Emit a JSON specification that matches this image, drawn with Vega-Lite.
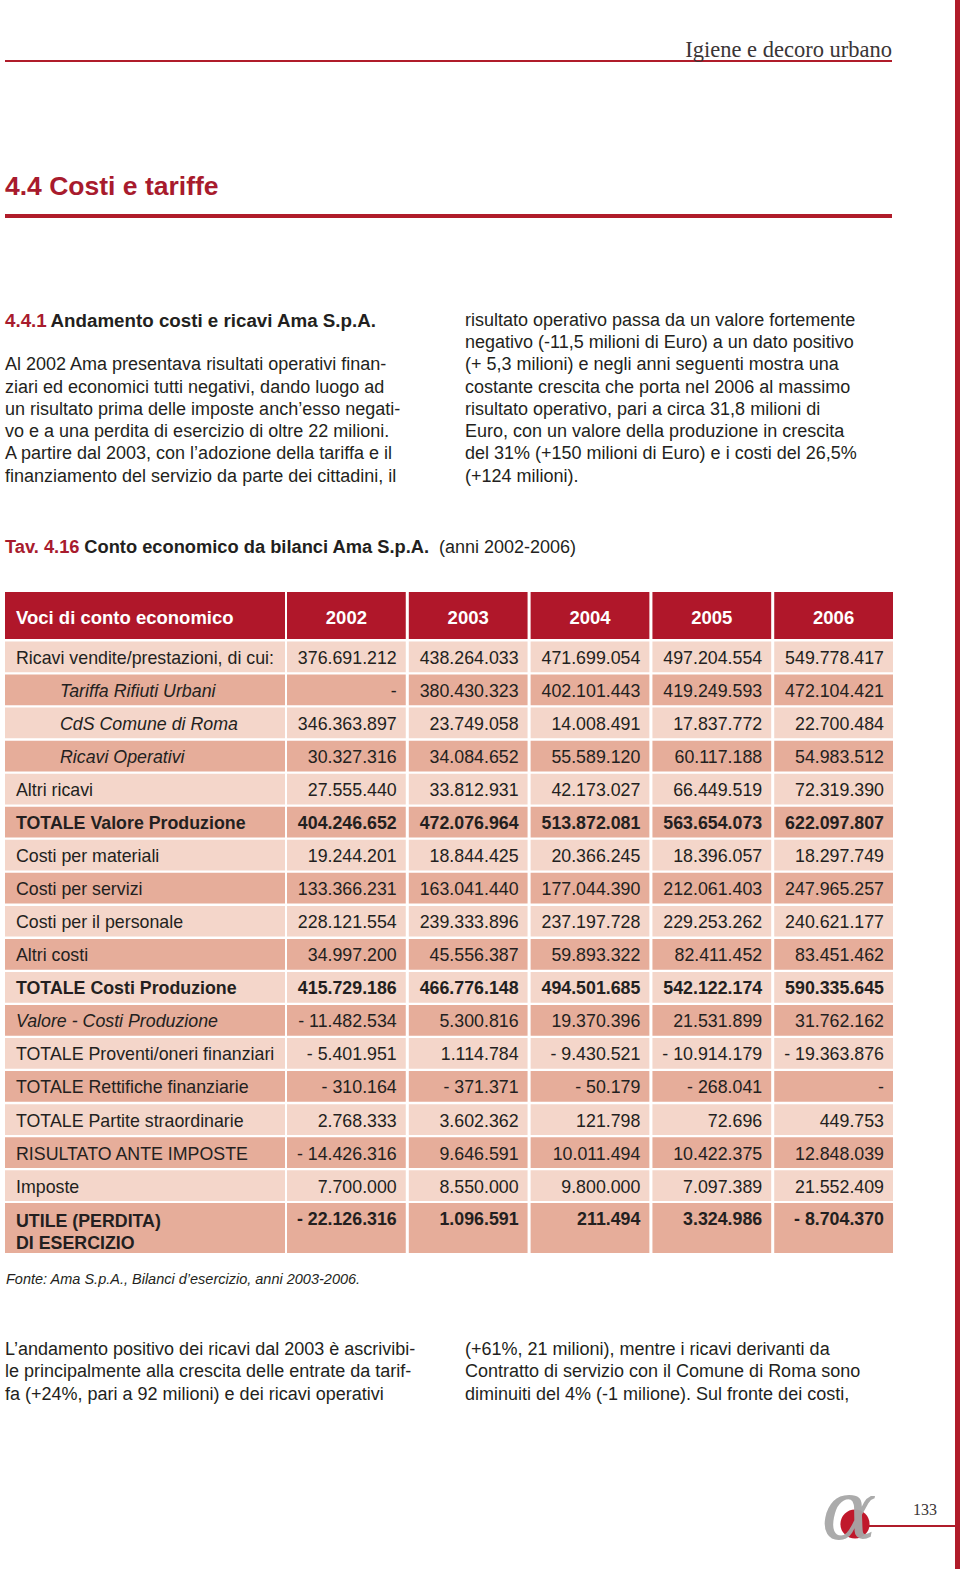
{
  "$schema": "https://vega.github.io/schema/vega-lite/v6.json",
  "width": 960,
  "height": 1569,
  "autosize": {"type": "fit", "contains": "padding"},
  "padding": 0,
  "background": "#ffffff",
  "config": {"view": {"stroke": null}, "text": {"font": "Liberation Sans", "color": "#231f20", "dy": 2}},
  "resolve": {"scale": {"x": "independent", "y": "independent", "color": "independent", "size": "independent"}},
  "datasets": {
    "pagina": [
      {"elemento": "margine"},
      {"elemento": "filetto testata"},
      {"elemento": "filetto capitolo"},
      {"elemento": "filetto piede"},
      {"elemento": "testata", "testo": "Igiene e decoro urbano"},
      {"elemento": "capitolo", "testo": "4.4 Costi e tariffe"},
      {"elemento": "paragrafo", "numero": "4.4.1", "titolo": "Andamento costi e ricavi Ama S.p.A."},
      {"elemento": "tavola", "numero": "Tav. 4.16", "titolo": "Conto economico da bilanci Ama S.p.A.", "nota": "(anni 2002-2006)"},
      {"elemento": "fonte", "testo": "Fonte: Ama S.p.A., Bilanci d’esercizio, anni 2003-2006."},
      {"elemento": "logo", "testo": "α"},
      {"elemento": "numero pagina", "testo": "133"}
    ],
    "testo_sopra": [
      {"colonna": "sinistra", "riga": 3, "testo": "Al 2002 Ama presentava risultati operativi finan-"},
      {"colonna": "sinistra", "riga": 4, "testo": "ziari ed economici tutti negativi, dando luogo ad"},
      {"colonna": "sinistra", "riga": 5, "testo": "un risultato prima delle imposte anch’esso negati-"},
      {"colonna": "sinistra", "riga": 6, "testo": "vo e a una perdita di esercizio di oltre 22 milioni."},
      {"colonna": "sinistra", "riga": 7, "testo": "A partire dal 2003, con l’adozione della tariffa e il"},
      {"colonna": "sinistra", "riga": 8, "testo": "finanziamento del servizio da parte dei cittadini, il"},
      {"colonna": "destra", "riga": 1, "testo": "risultato operativo passa da un valore fortemente"},
      {"colonna": "destra", "riga": 2, "testo": "negativo (-11,5 milioni di Euro) a un dato positivo"},
      {"colonna": "destra", "riga": 3, "testo": "(+ 5,3 milioni) e negli anni seguenti mostra una"},
      {"colonna": "destra", "riga": 4, "testo": "costante crescita che porta nel 2006 al massimo"},
      {"colonna": "destra", "riga": 5, "testo": "risultato operativo, pari a circa 31,8 milioni di"},
      {"colonna": "destra", "riga": 6, "testo": "Euro, con un valore della produzione in crescita"},
      {"colonna": "destra", "riga": 7, "testo": "del 31% (+150 milioni di Euro) e i costi del 26,5%"},
      {"colonna": "destra", "riga": 8, "testo": "(+124 milioni)."}
    ],
    "testo_sotto": [
      {"colonna": "sinistra", "riga": 1, "testo": "L’andamento positivo dei ricavi dal 2003 è ascrivibi-"},
      {"colonna": "sinistra", "riga": 2, "testo": "le principalmente alla crescita delle entrate da tarif-"},
      {"colonna": "sinistra", "riga": 3, "testo": "fa (+24%, pari a 92 milioni) e dei ricavi operativi"},
      {"colonna": "destra", "riga": 1, "testo": "(+61%, 21 milioni), mentre i ricavi derivanti da"},
      {"colonna": "destra", "riga": 2, "testo": "Contratto di servizio con il Comune di Roma sono"},
      {"colonna": "destra", "riga": 3, "testo": "diminuiti del 4% (-1 milione). Sul fronte dei costi,"}
    ],
    "intestazione": [
      {"sezione": "intestazione", "ruolo": "voci", "colonna": "Voci di conto economico"},
      {"sezione": "intestazione", "ruolo": "anno", "colonna": "2002"},
      {"sezione": "intestazione", "ruolo": "anno", "colonna": "2003"},
      {"sezione": "intestazione", "ruolo": "anno", "colonna": "2004"},
      {"sezione": "intestazione", "ruolo": "anno", "colonna": "2005"},
      {"sezione": "intestazione", "ruolo": "anno", "colonna": "2006"}
    ],
    "conto": [
      {"voce": "Ricavi vendite/prestazioni, di cui:", "tipo": "voce", "2002": "376.691.212", "2003": "438.264.033", "2004": "471.699.054", "2005": "497.204.554", "2006": "549.778.417"},
      {"voce": "Tariffa Rifiuti Urbani", "tipo": "sotto", "2002": "-", "2003": "380.430.323", "2004": "402.101.443", "2005": "419.249.593", "2006": "472.104.421"},
      {"voce": "CdS Comune di Roma", "tipo": "sotto", "2002": "346.363.897", "2003": "23.749.058", "2004": "14.008.491", "2005": "17.837.772", "2006": "22.700.484"},
      {"voce": "Ricavi Operativi", "tipo": "sotto", "2002": "30.327.316", "2003": "34.084.652", "2004": "55.589.120", "2005": "60.117.188", "2006": "54.983.512"},
      {"voce": "Altri ricavi", "tipo": "voce", "2002": "27.555.440", "2003": "33.812.931", "2004": "42.173.027", "2005": "66.449.519", "2006": "72.319.390"},
      {"voce": "TOTALE Valore Produzione", "tipo": "totale", "2002": "404.246.652", "2003": "472.076.964", "2004": "513.872.081", "2005": "563.654.073", "2006": "622.097.807"},
      {"voce": "Costi per materiali", "tipo": "voce", "2002": "19.244.201", "2003": "18.844.425", "2004": "20.366.245", "2005": "18.396.057", "2006": "18.297.749"},
      {"voce": "Costi per servizi", "tipo": "voce", "2002": "133.366.231", "2003": "163.041.440", "2004": "177.044.390", "2005": "212.061.403", "2006": "247.965.257"},
      {"voce": "Costi per il personale", "tipo": "voce", "2002": "228.121.554", "2003": "239.333.896", "2004": "237.197.728", "2005": "229.253.262", "2006": "240.621.177"},
      {"voce": "Altri costi", "tipo": "voce", "2002": "34.997.200", "2003": "45.556.387", "2004": "59.893.322", "2005": "82.411.452", "2006": "83.451.462"},
      {"voce": "TOTALE Costi Produzione", "tipo": "totale", "2002": "415.729.186", "2003": "466.776.148", "2004": "494.501.685", "2005": "542.122.174", "2006": "590.335.645"},
      {"voce": "Valore - Costi Produzione", "tipo": "differenza", "2002": "- 11.482.534", "2003": "5.300.816", "2004": "19.370.396", "2005": "21.531.899", "2006": "31.762.162"},
      {"voce": "TOTALE Proventi/oneri finanziari", "tipo": "voce", "2002": "- 5.401.951", "2003": "1.114.784", "2004": "- 9.430.521", "2005": "- 10.914.179", "2006": "- 19.363.876"},
      {"voce": "TOTALE Rettifiche finanziarie", "tipo": "voce", "2002": "- 310.164", "2003": "- 371.371", "2004": "- 50.179", "2005": "- 268.041", "2006": "-"},
      {"voce": "TOTALE Partite straordinarie", "tipo": "voce", "2002": "2.768.333", "2003": "3.602.362", "2004": "121.798", "2005": "72.696", "2006": "449.753"},
      {"voce": "RISULTATO ANTE IMPOSTE", "tipo": "voce", "2002": "- 14.426.316", "2003": "9.646.591", "2004": "10.011.494", "2005": "10.422.375", "2006": "12.848.039"},
      {"voce": "Imposte", "tipo": "voce", "2002": "7.700.000", "2003": "8.550.000", "2004": "9.800.000", "2005": "7.097.389", "2006": "21.552.409"},
      {"voce": "UTILE (PERDITA)\nDI ESERCIZIO", "tipo": "utile", "2002": "- 22.126.316", "2003": "1.096.591", "2004": "211.494", "2005": "3.324.986", "2006": "- 8.704.370"}
    ]
  },
  "layer": [
    {
      "data": {"name": "pagina"},
      "transform": [{"filter": {"field": "elemento", "equal": "margine"}}],
      "mark": {"type": "rect", "color": "#b01c2a"},
      "encoding": {
        "x": {"field": "elemento", "type": "nominal", "scale": {"type": "band", "range": [955, 960], "paddingInner": 0, "paddingOuter": 0}, "axis": null},
        "y": {"field": "elemento", "type": "nominal", "scale": {"type": "band", "range": [0, 1569], "paddingInner": 0, "paddingOuter": 0}, "axis": null}
      }
    },
    {
      "data": {"name": "pagina"},
      "transform": [{"filter": {"field": "elemento", "equal": "filetto testata"}}],
      "mark": {"type": "rect", "color": "#b01c2a"},
      "encoding": {
        "x": {"field": "elemento", "type": "nominal", "scale": {"type": "band", "range": [5, 892], "paddingInner": 0, "paddingOuter": 0}, "axis": null},
        "y": {"field": "elemento", "type": "nominal", "scale": {"type": "band", "range": [60, 62], "paddingInner": 0, "paddingOuter": 0}, "axis": null}
      }
    },
    {
      "data": {"name": "pagina"},
      "transform": [{"filter": {"field": "elemento", "equal": "filetto capitolo"}}],
      "mark": {"type": "rect", "color": "#b01c2a"},
      "encoding": {
        "x": {"field": "elemento", "type": "nominal", "scale": {"type": "band", "range": [5, 892], "paddingInner": 0, "paddingOuter": 0}, "axis": null},
        "y": {"field": "elemento", "type": "nominal", "scale": {"type": "band", "range": [214, 218], "paddingInner": 0, "paddingOuter": 0}, "axis": null}
      }
    },
    {
      "data": {"name": "pagina"},
      "transform": [{"filter": {"field": "elemento", "equal": "filetto piede"}}],
      "mark": {"type": "rect", "color": "#b01c2a"},
      "encoding": {
        "x": {"field": "elemento", "type": "nominal", "scale": {"type": "band", "range": [868, 956], "paddingInner": 0, "paddingOuter": 0}, "axis": null},
        "y": {"field": "elemento", "type": "nominal", "scale": {"type": "band", "range": [1525, 1527], "paddingInner": 0, "paddingOuter": 0}, "axis": null}
      }
    },
    {
      "data": {"name": "pagina"},
      "transform": [{"filter": {"field": "elemento", "equal": "testata"}}],
      "mark": {"type": "text", "align": "right", "baseline": "middle", "font": "Liberation Serif", "fontSize": 22.5, "color": "#3a3536"},
      "encoding": {
        "x": {"field": "elemento", "type": "nominal", "bandPosition": 1, "scale": {"type": "band", "range": [5, 892], "paddingInner": 0, "paddingOuter": 0}, "axis": null},
        "y": {"field": "elemento", "type": "nominal", "scale": {"type": "band", "range": [37, 59], "paddingInner": 0, "paddingOuter": 0}, "axis": null},
        "text": {"field": "testo"}
      }
    },
    {
      "data": {"name": "pagina"},
      "transform": [{"filter": {"field": "elemento", "equal": "capitolo"}}],
      "mark": {"type": "text", "align": "left", "baseline": "middle", "fontSize": 26.5, "fontWeight": "bold", "color": "#a81b2d"},
      "encoding": {
        "x": {"field": "elemento", "type": "nominal", "bandPosition": 0, "scale": {"type": "band", "range": [5, 892], "paddingInner": 0, "paddingOuter": 0}, "axis": null},
        "y": {"field": "elemento", "type": "nominal", "scale": {"type": "band", "range": [172, 198], "paddingInner": 0, "paddingOuter": 0}, "axis": null},
        "text": {"field": "testo"}
      }
    },
    {
      "data": {"name": "pagina"},
      "transform": [{"filter": {"field": "elemento", "equal": "paragrafo"}}],
      "mark": {"type": "text", "align": "left", "baseline": "middle", "fontSize": 18.75, "fontWeight": "bold", "color": "#a81b2d"},
      "encoding": {
        "x": {"field": "elemento", "type": "nominal", "bandPosition": 0, "scale": {"type": "band", "range": [5, 376], "paddingInner": 0, "paddingOuter": 0}, "axis": null},
        "y": {"field": "elemento", "type": "nominal", "scale": {"type": "band", "range": [308, 330], "paddingInner": 0, "paddingOuter": 0}, "axis": null},
        "text": {"field": "numero"}
      }
    },
    {
      "data": {"name": "pagina"},
      "transform": [{"filter": {"field": "elemento", "equal": "paragrafo"}}],
      "mark": {"type": "text", "align": "right", "baseline": "middle", "fontSize": 18.75, "fontWeight": "bold", "color": "#231f20"},
      "encoding": {
        "x": {"field": "elemento", "type": "nominal", "bandPosition": 1, "scale": {"type": "band", "range": [5, 376], "paddingInner": 0, "paddingOuter": 0}, "axis": null},
        "y": {"field": "elemento", "type": "nominal", "scale": {"type": "band", "range": [308, 330], "paddingInner": 0, "paddingOuter": 0}, "axis": null},
        "text": {"field": "titolo"}
      }
    },
    {
      "data": {"name": "testo_sopra"},
      "mark": {"type": "text", "align": "left", "baseline": "middle", "fontSize": 18},
      "encoding": {
        "x": {"field": "colonna", "type": "nominal", "bandPosition": 0, "scale": {"type": "band", "domain": ["sinistra", "destra"], "range": [5, 892], "paddingInner": 0.0717, "paddingOuter": 0}, "axis": null},
        "y": {"field": "riga", "type": "quantitative", "scale": {"domain": [1, 8], "range": [319, 474.5], "zero": false, "nice": false}, "axis": null},
        "text": {"field": "testo"}
      }
    },
    {
      "data": {"name": "pagina"},
      "transform": [{"filter": {"field": "elemento", "equal": "tavola"}}],
      "mark": {"type": "text", "align": "left", "baseline": "middle", "fontSize": 18.3, "fontWeight": "bold", "color": "#a81b2d"},
      "encoding": {
        "x": {"field": "elemento", "type": "nominal", "bandPosition": 0, "scale": {"type": "band", "range": [5, 429], "paddingInner": 0, "paddingOuter": 0}, "axis": null},
        "y": {"field": "elemento", "type": "nominal", "scale": {"type": "band", "range": [535, 557], "paddingInner": 0, "paddingOuter": 0}, "axis": null},
        "text": {"field": "numero"}
      }
    },
    {
      "data": {"name": "pagina"},
      "transform": [{"filter": {"field": "elemento", "equal": "tavola"}}],
      "mark": {"type": "text", "align": "right", "baseline": "middle", "fontSize": 18.3, "fontWeight": "bold", "color": "#231f20"},
      "encoding": {
        "x": {"field": "elemento", "type": "nominal", "bandPosition": 1, "scale": {"type": "band", "range": [5, 429], "paddingInner": 0, "paddingOuter": 0}, "axis": null},
        "y": {"field": "elemento", "type": "nominal", "scale": {"type": "band", "range": [535, 557], "paddingInner": 0, "paddingOuter": 0}, "axis": null},
        "text": {"field": "titolo"}
      }
    },
    {
      "data": {"name": "pagina"},
      "transform": [{"filter": {"field": "elemento", "equal": "tavola"}}],
      "mark": {"type": "text", "align": "right", "baseline": "middle", "fontSize": 18, "color": "#231f20"},
      "encoding": {
        "x": {"field": "elemento", "type": "nominal", "bandPosition": 1, "scale": {"type": "band", "range": [5, 576], "paddingInner": 0, "paddingOuter": 0}, "axis": null},
        "y": {"field": "elemento", "type": "nominal", "scale": {"type": "band", "range": [535, 557], "paddingInner": 0, "paddingOuter": 0}, "axis": null},
        "text": {"field": "nota"}
      }
    },
    {
      "data": {"name": "intestazione"},
      "encoding": {
        "y": {"field": "sezione", "type": "nominal", "scale": {"type": "band", "range": [592, 639], "paddingInner": 0, "paddingOuter": 0}, "axis": null}
      },
      "resolve": {"scale": {"x": "independent"}},
      "layer": [
        {
          "transform": [{"filter": {"field": "ruolo", "equal": "voci"}}],
          "mark": {"type": "rect", "color": "#b0172a"},
          "encoding": {
            "x": {"field": "colonna", "type": "nominal", "scale": {"type": "band", "range": [5, 285], "paddingInner": 0, "paddingOuter": 0}, "axis": null}
          }
        },
        {
          "transform": [{"filter": {"field": "ruolo", "equal": "anno"}}],
          "mark": {"type": "rect", "color": "#b0172a"},
          "encoding": {
            "x": {"field": "colonna", "type": "nominal", "scale": {"type": "band", "domain": ["2002", "2003", "2004", "2005", "2006"], "range": [287, 893], "paddingInner": 0.025, "paddingOuter": 0}, "axis": null}
          }
        },
        {
          "transform": [{"filter": {"field": "ruolo", "equal": "voci"}}],
          "mark": {"type": "text", "align": "left", "baseline": "middle", "fontSize": 18.5, "fontWeight": "bold", "color": "#ffffff"},
          "encoding": {
            "x": {"field": "colonna", "type": "nominal", "bandPosition": 0, "scale": {"type": "band", "range": [16, 285], "paddingInner": 0, "paddingOuter": 0}, "axis": null},
            "text": {"field": "colonna"}
          }
        },
        {
          "transform": [{"filter": {"field": "ruolo", "equal": "anno"}}],
          "mark": {"type": "text", "align": "center", "baseline": "middle", "fontSize": 18.5, "fontWeight": "bold", "color": "#ffffff"},
          "encoding": {
            "x": {"field": "colonna", "type": "nominal", "bandPosition": 0.5, "scale": {"type": "band", "domain": ["2002", "2003", "2004", "2005", "2006"], "range": [287, 893], "paddingInner": 0.025, "paddingOuter": 0}, "axis": null},
            "text": {"field": "colonna"}
          }
        }
      ]
    },
    {
      "data": {"name": "conto"},
      "transform": [{"filter": {"field": "tipo", "oneOf": ["voce", "sotto", "totale", "differenza"]}}],
      "encoding": {
        "y": {"field": "voce", "type": "nominal", "scale": {"type": "band", "domain": ["Ricavi vendite/prestazioni, di cui:", "Tariffa Rifiuti Urbani", "CdS Comune di Roma", "Ricavi Operativi", "Altri ricavi", "TOTALE Valore Produzione", "Costi per materiali", "Costi per servizi", "Costi per il personale", "Altri costi", "TOTALE Costi Produzione", "Valore - Costi Produzione", "TOTALE Proventi/oneri finanziari", "TOTALE Rettifiche finanziarie", "TOTALE Partite straordinarie", "RISULTATO ANTE IMPOSTE", "Imposte"], "range": [641.5, 1201], "paddingInner": 0.07, "paddingOuter": 0}, "axis": null}
      },
      "resolve": {"scale": {"x": "independent"}},
      "layer": [
        {
          "transform": [{"fold": ["voce"], "as": ["colonna", "etichetta"]}],
          "mark": {"type": "rect"},
          "encoding": {
            "x": {"field": "colonna", "type": "nominal", "scale": {"type": "band", "range": [5, 285], "paddingInner": 0, "paddingOuter": 0}, "axis": null},
            "color": {"field": "voce", "type": "nominal", "scale": {"domain": ["Ricavi vendite/prestazioni, di cui:", "Tariffa Rifiuti Urbani", "CdS Comune di Roma", "Ricavi Operativi", "Altri ricavi", "TOTALE Valore Produzione", "Costi per materiali", "Costi per servizi", "Costi per il personale", "Altri costi", "TOTALE Costi Produzione", "Valore - Costi Produzione", "TOTALE Proventi/oneri finanziari", "TOTALE Rettifiche finanziarie", "TOTALE Partite straordinarie", "RISULTATO ANTE IMPOSTE", "Imposte", "UTILE (PERDITA)\nDI ESERCIZIO"], "range": ["#f4d6ca", "#e6ad9a"]}, "legend": null}
          }
        },
        {
          "transform": [{"fold": ["2002", "2003", "2004", "2005", "2006"], "as": ["anno", "valore"]}],
          "mark": {"type": "rect"},
          "encoding": {
            "x": {"field": "anno", "type": "nominal", "scale": {"type": "band", "domain": ["2002", "2003", "2004", "2005", "2006"], "range": [287, 893], "paddingInner": 0.025, "paddingOuter": 0}, "axis": null},
            "color": {"field": "voce", "type": "nominal", "scale": {"domain": ["Ricavi vendite/prestazioni, di cui:", "Tariffa Rifiuti Urbani", "CdS Comune di Roma", "Ricavi Operativi", "Altri ricavi", "TOTALE Valore Produzione", "Costi per materiali", "Costi per servizi", "Costi per il personale", "Altri costi", "TOTALE Costi Produzione", "Valore - Costi Produzione", "TOTALE Proventi/oneri finanziari", "TOTALE Rettifiche finanziarie", "TOTALE Partite straordinarie", "RISULTATO ANTE IMPOSTE", "Imposte", "UTILE (PERDITA)\nDI ESERCIZIO"], "range": ["#f4d6ca", "#e6ad9a"]}, "legend": null}
          }
        },
        {
          "transform": [{"filter": {"field": "tipo", "equal": "voce"}}],
          "mark": {"type": "text", "align": "left", "baseline": "middle", "fontSize": 17.8},
          "encoding": {
            "x": {"field": "tipo", "type": "nominal", "bandPosition": 0, "scale": {"type": "band", "range": [16, 285], "paddingInner": 0, "paddingOuter": 0}, "axis": null},
            "text": {"field": "voce"}
          }
        },
        {
          "transform": [{"filter": {"field": "tipo", "equal": "sotto"}}],
          "mark": {"type": "text", "align": "left", "baseline": "middle", "fontSize": 17.8, "fontStyle": "italic"},
          "encoding": {
            "x": {"field": "tipo", "type": "nominal", "bandPosition": 0, "scale": {"type": "band", "range": [60, 285], "paddingInner": 0, "paddingOuter": 0}, "axis": null},
            "text": {"field": "voce"}
          }
        },
        {
          "transform": [{"filter": {"field": "tipo", "equal": "differenza"}}],
          "mark": {"type": "text", "align": "left", "baseline": "middle", "fontSize": 17.8, "fontStyle": "italic"},
          "encoding": {
            "x": {"field": "tipo", "type": "nominal", "bandPosition": 0, "scale": {"type": "band", "range": [16, 285], "paddingInner": 0, "paddingOuter": 0}, "axis": null},
            "text": {"field": "voce"}
          }
        },
        {
          "transform": [{"filter": {"field": "tipo", "equal": "totale"}}],
          "mark": {"type": "text", "align": "left", "baseline": "middle", "fontSize": 17.8, "fontWeight": "bold"},
          "encoding": {
            "x": {"field": "tipo", "type": "nominal", "bandPosition": 0, "scale": {"type": "band", "range": [16, 285], "paddingInner": 0, "paddingOuter": 0}, "axis": null},
            "text": {"field": "voce"}
          }
        },
        {
          "transform": [{"filter": {"field": "tipo", "oneOf": ["voce", "sotto", "differenza"]}}, {"fold": ["2002", "2003", "2004", "2005", "2006"], "as": ["anno", "valore"]}],
          "mark": {"type": "text", "align": "right", "baseline": "middle", "fontSize": 17.8},
          "encoding": {
            "x": {"field": "anno", "type": "nominal", "bandPosition": 1, "scale": {"type": "band", "domain": ["2002", "2003", "2004", "2005", "2006"], "range": [278, 884], "paddingInner": 0.025, "paddingOuter": 0}, "axis": null},
            "text": {"field": "valore"}
          }
        },
        {
          "transform": [{"filter": {"field": "tipo", "equal": "totale"}}, {"fold": ["2002", "2003", "2004", "2005", "2006"], "as": ["anno", "valore"]}],
          "mark": {"type": "text", "align": "right", "baseline": "middle", "fontSize": 17.8, "fontWeight": "bold"},
          "encoding": {
            "x": {"field": "anno", "type": "nominal", "bandPosition": 1, "scale": {"type": "band", "domain": ["2002", "2003", "2004", "2005", "2006"], "range": [278, 884], "paddingInner": 0.025, "paddingOuter": 0}, "axis": null},
            "text": {"field": "valore"}
          }
        }
      ]
    },
    {
      "data": {"name": "conto"},
      "transform": [{"filter": {"field": "tipo", "equal": "utile"}}],
      "encoding": {
        "y": {"field": "voce", "type": "nominal", "scale": {"type": "band", "range": [1203, 1253], "paddingInner": 0, "paddingOuter": 0}, "axis": null}
      },
      "resolve": {"scale": {"x": "independent"}},
      "layer": [
        {
          "transform": [{"fold": ["voce"], "as": ["colonna", "etichetta"]}],
          "mark": {"type": "rect", "color": "#e6ad9a"},
          "encoding": {
            "x": {"field": "colonna", "type": "nominal", "scale": {"type": "band", "range": [5, 285], "paddingInner": 0, "paddingOuter": 0}, "axis": null}
          }
        },
        {
          "transform": [{"fold": ["2002", "2003", "2004", "2005", "2006"], "as": ["anno", "valore"]}],
          "mark": {"type": "rect", "color": "#e6ad9a"},
          "encoding": {
            "x": {"field": "anno", "type": "nominal", "scale": {"type": "band", "domain": ["2002", "2003", "2004", "2005", "2006"], "range": [287, 893], "paddingInner": 0.025, "paddingOuter": 0}, "axis": null}
          }
        },
        {
          "mark": {"type": "text", "align": "left", "baseline": "middle", "fontSize": 17.8, "fontWeight": "bold", "lineBreak": "\n", "lineHeight": 22, "dy": -6},
          "encoding": {
            "x": {"field": "tipo", "type": "nominal", "bandPosition": 0, "scale": {"type": "band", "range": [16, 285], "paddingInner": 0, "paddingOuter": 0}, "axis": null},
            "text": {"field": "voce"}
          }
        },
        {
          "transform": [{"fold": ["2002", "2003", "2004", "2005", "2006"], "as": ["anno", "valore"]}],
          "mark": {"type": "text", "align": "right", "baseline": "middle", "fontSize": 17.8, "fontWeight": "bold", "dy": -8},
          "encoding": {
            "x": {"field": "anno", "type": "nominal", "bandPosition": 1, "scale": {"type": "band", "domain": ["2002", "2003", "2004", "2005", "2006"], "range": [278, 884], "paddingInner": 0.025, "paddingOuter": 0}, "axis": null},
            "text": {"field": "valore"}
          }
        }
      ]
    },
    {
      "data": {"name": "pagina"},
      "transform": [{"filter": {"field": "elemento", "equal": "fonte"}}],
      "mark": {"type": "text", "align": "left", "baseline": "middle", "fontSize": 14.5, "fontStyle": "italic"},
      "encoding": {
        "x": {"field": "elemento", "type": "nominal", "bandPosition": 0, "scale": {"type": "band", "range": [6, 892], "paddingInner": 0, "paddingOuter": 0}, "axis": null},
        "y": {"field": "elemento", "type": "nominal", "scale": {"type": "band", "range": [1268, 1288], "paddingInner": 0, "paddingOuter": 0}, "axis": null},
        "text": {"field": "testo"}
      }
    },
    {
      "data": {"name": "testo_sotto"},
      "mark": {"type": "text", "align": "left", "baseline": "middle", "fontSize": 18},
      "encoding": {
        "x": {"field": "colonna", "type": "nominal", "bandPosition": 0, "scale": {"type": "band", "domain": ["sinistra", "destra"], "range": [5, 892], "paddingInner": 0.0717, "paddingOuter": 0}, "axis": null},
        "y": {"field": "riga", "type": "quantitative", "scale": {"domain": [1, 3], "range": [1348, 1392.5], "zero": false, "nice": false}, "axis": null},
        "text": {"field": "testo"}
      }
    },
    {
      "data": {"name": "pagina"},
      "transform": [{"filter": {"field": "elemento", "equal": "logo"}}],
      "mark": {"type": "point", "shape": "circle", "filled": true, "opacity": 1, "color": "#c0182b", "size": 850},
      "encoding": {
        "x": {"field": "elemento", "type": "nominal", "scale": {"type": "band", "range": [840, 870], "paddingInner": 0, "paddingOuter": 0}, "axis": null},
        "y": {"field": "elemento", "type": "nominal", "scale": {"type": "band", "range": [1509, 1539], "paddingInner": 0, "paddingOuter": 0}, "axis": null}
      }
    },
    {
      "data": {"name": "pagina"},
      "transform": [{"filter": {"field": "elemento", "equal": "logo"}}],
      "mark": {"type": "text", "align": "center", "baseline": "middle", "font": "DejaVu Serif", "fontStyle": "italic", "fontSize": 82, "color": "#a7a7a7", "opacity": 0.95},
      "encoding": {
        "x": {"field": "elemento", "type": "nominal", "scale": {"type": "band", "range": [818, 880], "paddingInner": 0, "paddingOuter": 0}, "axis": null},
        "y": {"field": "elemento", "type": "nominal", "scale": {"type": "band", "range": [1484, 1540], "paddingInner": 0, "paddingOuter": 0}, "axis": null},
        "text": {"field": "testo"}
      }
    },
    {
      "data": {"name": "pagina"},
      "transform": [{"filter": {"field": "elemento", "equal": "numero pagina"}}],
      "mark": {"type": "text", "align": "center", "baseline": "middle", "font": "Liberation Serif", "fontSize": 16, "color": "#3a3536"},
      "encoding": {
        "x": {"field": "elemento", "type": "nominal", "scale": {"type": "band", "range": [905, 945], "paddingInner": 0, "paddingOuter": 0}, "axis": null},
        "y": {"field": "elemento", "type": "nominal", "scale": {"type": "band", "range": [1498, 1518], "paddingInner": 0, "paddingOuter": 0}, "axis": null},
        "text": {"field": "testo"}
      }
    }
  ]
}
